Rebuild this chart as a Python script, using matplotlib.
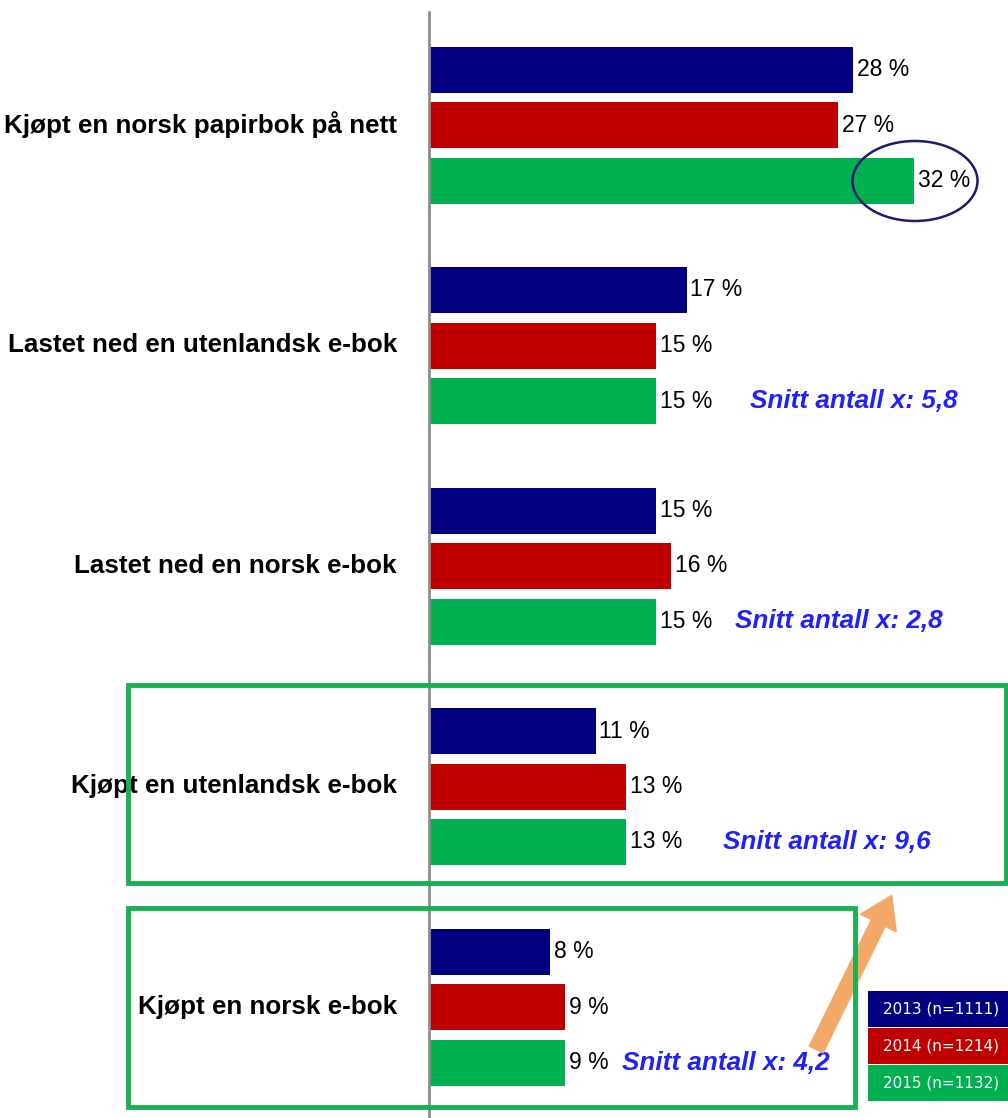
import matplotlib.pyplot as plt
import numpy as np
from matplotlib.patches import Rectangle, Ellipse

# Data
categories = [
    "Kjøpt en norsk papirbok på nett",
    "Lastet ned en utenlandsk e-bok",
    "Lastet ned en norsk e-bok",
    "Kjøpt en utenlandsk e-bok",
    "Kjøpt en norsk e-bok",
]
years = ["2013 (n=1111)", "2014 (n=1214)", "2015 (n=1132)"]
v2013 = [28, 17, 15, 11, 8]
v2014 = [27, 15, 16, 13, 9]
v2015 = [32, 15, 15, 13, 9]
snitt = [None, "5,8", "2,8", "9,6", "4,2"]

colors = ["#000080", "#c00000", "#00b050"]
snitt_color = "#2020ff"

W, H = 1008, 1118
fig = plt.figure(figsize=(W / 100, H / 100), dpi=100)
ax = fig.add_axes([429 / W, 0, 1 - 429 / W, 1])

px_per_pct = 15.15
group_px = 220.5
ax.set_xlim(0, (W - 429) / px_per_pct)
ax.set_ylim((H - 125) / group_px, -125 / group_px)

idx = np.arange(len(categories))
offset = 55.5 / group_px
bar_h = 46 / group_px

for j, vals in enumerate([v2013, v2014, v2015]):
    ypos = idx + (j - 1) * offset
    ax.barh(ypos, vals, height=bar_h, color=colors[j])
    for y, v in zip(ypos, vals):
        ax.text(v + 0.25, y, f"{v} %", va="center", ha="left",
                fontsize=16.5, family="Liberation Sans", color="black")

# category labels
ytrans = ax.get_yaxis_transform()
for i, cat in enumerate(categories):
    ax.text((397 - 429) / (W - 429), i, cat, transform=ytrans, ha="right",
            va="center", fontsize=18.7, fontweight="bold",
            family="Liberation Sans", clip_on=False)

# average annotations
snitt_x = [None, 750, 735, 723, 622]
for i, (s, xp) in enumerate(zip(snitt, snitt_x)):
    if s is None:
        continue
    ax.text((xp - 429) / px_per_pct, i + offset, f"Snitt antall x: {s}",
            ha="left", va="center", fontsize=18.8, fontweight="bold",
            fontstyle="italic", family="Liberation Sans", color=snitt_color)

# axis styling
for side in ["top", "right", "bottom"]:
    ax.spines[side].set_visible(False)
ax.spines["left"].set_color("#8c8c8c")
ax.spines["left"].set_linewidth(2)
ax.spines["left"].set_bounds((H - 125) / group_px, (12 - 125) / group_px)
ax.set_xticks([])
ax.set_yticks([])
ax.patch.set_alpha(0)


def fig_rect(x0, y0, x1, y1, **kw):
    return Rectangle((x0 / W, 1 - y1 / H), (x1 - x0) / W, (y1 - y0) / H,
                     transform=fig.transFigure, **kw)


# green highlight boxes
fig.add_artist(fig_rect(128, 685, 1006, 883, fill=False, ec="#19b050", lw=3.5))
fig.add_artist(fig_rect(128, 908, 855, 1107, fill=False, ec="#19b050", lw=3.5))

# ellipse around 32 %
fig.add_artist(Ellipse((915 / W, 1 - 181 / H), 125 / W, 80 / H,
                       transform=fig.transFigure, fill=False,
                       ec="#1c1c6e", lw=1.8))

# orange arrow
ax.annotate("", xy=(893, H - 893), xycoords="figure pixels",
            xytext=(815, H - 1052), textcoords="figure pixels",
            arrowprops=dict(arrowstyle="simple,head_length=1.0,head_width=1.3,tail_width=0.5",
                            color="#f4a868", mutation_scale=22))

# legend boxes
leg_y = [991, 1028, 1065]
for j, (lab, c) in enumerate(zip(years, colors)):
    fig.add_artist(fig_rect(868, leg_y[j], 1008, leg_y[j] + 36, color=c, lw=0))
    fig.text((868 + 1008) / 2 / W + 0.003, 1 - (leg_y[j] + 18) / H, lab,
             ha="center", va="center", color="white", fontsize=11,
             family="DejaVu Sans")

fig.savefig("out.png", dpi=100)
